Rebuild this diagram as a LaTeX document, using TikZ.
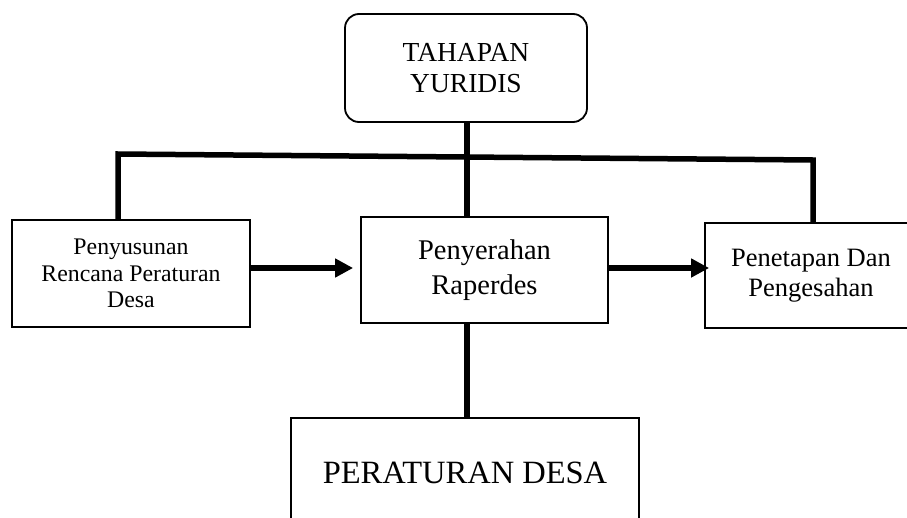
\documentclass[tikz,border=0pt]{standalone}
\usepackage{fontspec}
\setmainfont{Liberation Serif}
\usetikzlibrary{arrows.meta,calc}
\tikzset{
  box/.style={draw, line width=1.8pt, inner sep=0pt, align=center, minimum width=#1},
  thickline/.style={line width=5.5pt, line join=miter},
  arr/.style={line width=5.5pt, -{Triangle[length=18pt,width=18pt]}}
}
\newcommand{\fsz}[2]{\fontsize{#1}{#2}\selectfont}
\begin{document}
\begin{tikzpicture}[x=1pt,y=-1pt]
\useasboundingbox (0,0) rectangle (907,517);
\clip (0,0) rectangle (907,517);
% boxes
\node[box=242pt, minimum height=108pt, rounded corners=14pt, font={\fsz{27.5}{31}}] (top) at (466,68)
  {TAHAPAN\\YURIDIS};
\node[box=238pt, minimum height=107pt, font={\fsz{23.8}{26.7}}] (left) at (131,273.5)
  {Penyusunan\\Rencana Peraturan\\Desa};
\node[box=247pt, minimum height=106pt, font={\fsz{28.5}{35}}] (mid) at (484.5,270)
  {Penyerahan\\Raperdes};
% this box runs past the right edge of the page
\node[box=230pt, minimum height=105pt, font={\fsz{26.5}{30}}] (right) at (820,275.5)
  {\hspace*{-18pt}Penetapan Dan\\\hspace*{-18pt}Pengesahan};
\node[box=348pt, minimum height=109pt, font={\fsz{32.5}{36}}] (bot) at (465,472.5)
  {PERATURAN DESA};
% connector geometry
\coordinate (barL) at (118,154);
\coordinate (barR) at (813,160);
\coordinate (stem) at (467,0);
\coordinate (ay) at (0,268);
% branching bar
\draw[thickline] (left.north -| barL) -- (barL) -- (barR) -- (right.north -| barR);
\draw[thickline] (top.south -| stem) -- (stem |- mid.north);
\draw[thickline] (stem |- mid.south) -- (stem |- bot.north);
% arrows
\draw[arr] (left.east |- ay) -- ([xshift=-7pt]mid.west |- ay);
\draw[arr] (mid.east |- ay) -- ([xshift=5pt]right.west |- ay);
\end{tikzpicture}
\end{document}
